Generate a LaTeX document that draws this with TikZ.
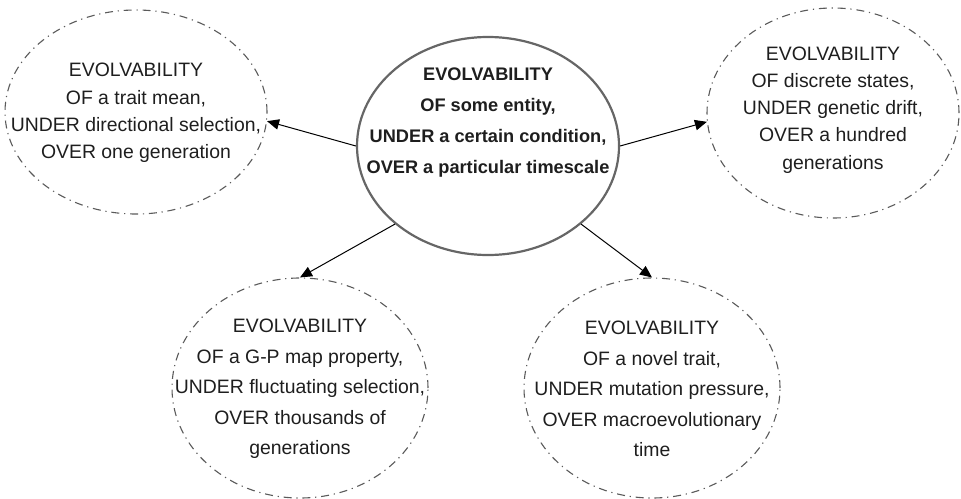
\documentclass[tikz,border=0pt]{standalone}
\usepackage{fontspec}
\setmainfont{Liberation Sans}
\usepackage{xcolor}
\usetikzlibrary{shapes.geometric,arrows.meta}

\definecolor{rimgray}{HTML}{666666}
\definecolor{dashgray}{HTML}{5A5A5A}
\definecolor{inkblack}{HTML}{1E1E1E}

\begin{document}
\begin{tikzpicture}[x=0.5pt, y=-0.5pt,
    coreshape/.style={ellipse, draw=rimgray, line width=1.1pt, inner sep=0pt},
    caseshape/.style={ellipse, draw=dashgray, line width=0.55pt, inner sep=0pt,
        dash pattern=on 4pt off 2.4pt on 0.6pt off 2.4pt},
    coretext/.style={align=center, text=inkblack, font=\fontsize{9.1}{15.5}\selectfont\bfseries},
    casetext/.style={align=center, text=inkblack, font=\fontsize{9.7}{13.6}\selectfont},
    lowtext/.style={casetext, font=\fontsize{9.7}{15.2}\selectfont},
    pointer/.style={-{Triangle[length=6pt,width=5.2pt]}, black, line width=0.5pt}]

                \useasboundingbox (0,0) rectangle (961,498);

                %% general definition
                \node[coreshape, minimum width=131pt, minimum height=109pt] (core) at (488,146) {};
                \node[coretext] (coretxt) at (488,123) {EVOLVABILITY\\OF some entity,\\UNDER a certain condition,\\OVER a particular timescale};

                %% top left
                \node[caseshape, minimum width=131pt, minimum height=102pt] (mean) at (136,112) {};
                \node[casetext] (meantxt) at (136,113) {EVOLVABILITY\\OF a trait mean,\\UNDER directional selection,\\OVER one generation};

                %% top right
                \node[caseshape, minimum width=126pt, minimum height=105pt] (disc) at (833,113) {};
                \node[casetext] (disctxt) at (833,110) {EVOLVABILITY\\OF discrete states,\\UNDER genetic drift,\\OVER a hundred\\generations};

                %% bottom left
                \node[caseshape, minimum width=128pt, minimum height=110pt] (gp) at (300,388) {};
                \node[lowtext] (gptxt) at (300,389) {EVOLVABILITY\\OF a G-P map property,\\UNDER fluctuating selection,\\OVER thousands of\\generations};

                %% bottom right
                \node[caseshape, minimum width=128pt, minimum height=110pt] (novel) at (652,388) {};
                \node[lowtext] (noveltxt) at (652,389) {EVOLVABILITY\\OF a novel trait,\\UNDER mutation pressure,\\OVER macroevolutionary\\time};

                %% arrows
                \draw[pointer] (core.west) -- (mean.-4);
                \draw[pointer] (core.east) -- (disc.184);
                \draw[pointer] (core.220) -- (gp.north);
                \draw[pointer] (core.-40) -- (novel.north);

            \end{tikzpicture}
\end{document}
